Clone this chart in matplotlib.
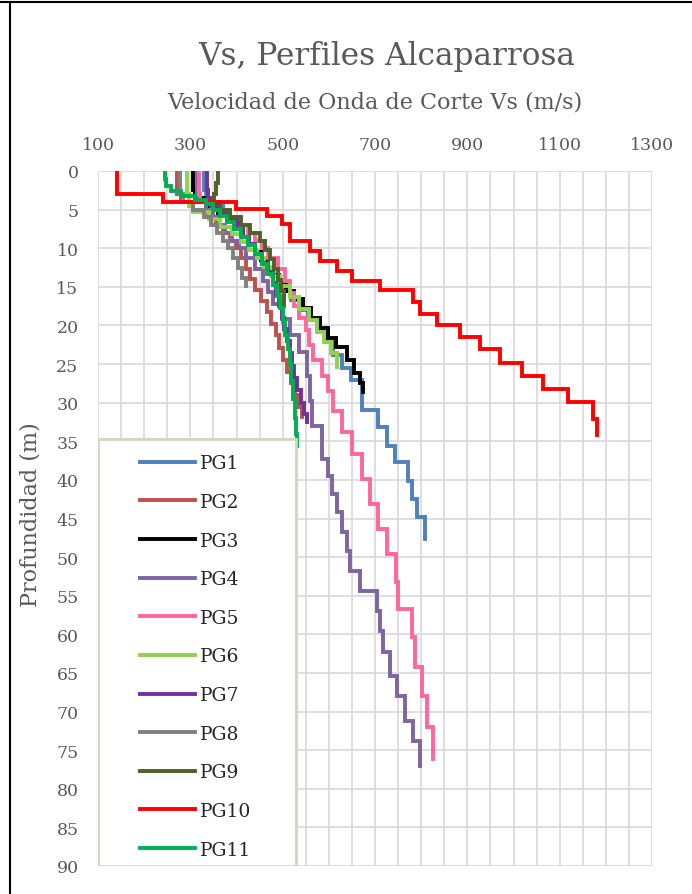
import matplotlib
matplotlib.use("Agg")
import matplotlib.pyplot as plt
from matplotlib.patches import Rectangle
from matplotlib.lines import Line2D
from matplotlib.ticker import MultipleLocator

# layer boundaries (m) and shear wave velocity of each layer (m/s)
pg1_depth = [0, 2.5, 3.5, 4.5, 5.5, 6.5, 7.5, 8.5, 9.5, 10.5, 11.5, 12.5, 13.5, 14.5, 15.5,
             16.7, 18, 19.3, 20.7, 22.2, 23.8, 25.5, 27, 31, 33.2, 35.6, 37.7, 40.2, 42.5,
             44.8, 47.7]
pg1_vs = [330, 335, 350, 370, 385, 400, 415, 428, 440, 452, 465, 478, 490, 503, 518,
          535, 555, 575, 593, 610, 628, 648, 672, 706, 726, 743, 771, 780, 791, 808]

pg2_depth = [0, 3, 4, 5, 6, 7, 8, 9, 10, 11.3, 12.7, 14, 15.4, 16.8, 18.3, 19.8, 21.3,
             22.9, 24.5, 26, 27.5, 29, 30.5, 31.9]
pg2_vs = [271, 280, 305, 335, 355, 370, 385, 398, 410, 420, 430, 440, 452, 465, 475,
          485, 493, 501, 510, 518, 526, 534, 541]

pg3_depth = [0, 2.5, 3.5, 4.5, 5.5, 6.5, 7.5, 8.5, 9.5, 10.5, 11.5, 12.5, 13.5, 14.5,
             15.5, 16.6, 17.8, 19, 20.3, 21.6, 22.8, 24.5, 26.2, 27.5, 28.6]
pg3_vs = [306, 310, 335, 360, 380, 398, 413, 426, 440, 453, 466, 480, 493, 508, 525,
          545, 562, 580, 598, 615, 640, 655, 668, 674]

pg4_depth = [0, 3, 4, 5, 6, 7, 8, 9, 10, 11.3, 12.7, 14.2, 15.7, 17.2, 19.2, 21.3, 23.4,
             26.6, 29.8, 33, 37.3, 39.5, 41.8, 44.2, 46.8, 49.2, 51.8, 54.4, 57, 59.6,
             62.3, 65.4, 68, 71.2, 73.8, 77.1]
pg4_vs = [315, 318, 335, 350, 362, 375, 390, 405, 420, 440, 457, 468, 479, 498, 516,
          535, 553, 559, 563, 585, 598, 607, 618, 628, 639, 646, 667, 704, 711, 717,
          732, 748, 765, 782, 797]

pg5_depth = [0, 3, 4, 5, 6, 7, 8, 9, 10, 11.3, 12.7, 14.2, 15.8, 17.5, 19, 20.6, 22.5,
             24.5, 26.5, 28.5, 31.1, 33.8, 36.7, 39.9, 43.1, 46.4, 49.6, 53.2, 56.7,
             60.4, 64.2, 68, 72, 76.2]
pg5_vs = [319, 322, 350, 380, 405, 425, 440, 455, 468, 490, 505, 515, 525, 535, 550,
          558, 566, 585, 598, 609, 628, 650, 672, 689, 706, 726, 745, 750, 780, 787,
          802, 813, 826]

pg6_depth = [0, 3, 4.5, 5.3, 6.2, 7.2, 8.2, 9.2, 10.2, 11.3, 12.4, 13.6, 14.9, 16.3,
             17.9, 19.3, 20.8, 22.2, 23.6, 25.4]
pg6_vs = [293, 297, 305, 340, 365, 390, 410, 428, 445, 460, 475, 495, 516, 535, 556,
          575, 590, 605, 618]

pg7_depth = [0, 2.5, 3.5, 4.5, 5.5, 6.5, 7.5, 8.5, 9.5, 10.7, 11.9, 13.1, 14.5, 16,
             17.5, 19, 20.5, 22, 23.6, 25.2, 26.8, 28.4, 30, 31.5, 32.5]
pg7_vs = [336, 338, 345, 365, 385, 400, 415, 428, 440, 455, 468, 478, 485, 492, 498,
          503, 509, 515, 520, 525, 532, 540, 547, 553]

pg8_depth = [0, 3, 4, 5, 6, 7, 8, 9, 10, 11.3, 12.6, 13.8, 14.9]
pg8_vs = [278, 285, 305, 330, 345, 358, 370, 382, 393, 403, 412, 420]

pg9_depth = [0, 1.5, 3, 4, 5, 6, 7, 8, 9, 10.2, 11.4, 12.7, 14.1, 15.6, 17.5]
pg9_vs = [360, 356, 352, 365, 385, 410, 430, 450, 462, 472, 482, 490, 497, 502]

pg10_depth = [0, 2.98, 4.02, 4.92, 5.83, 6.87, 9.07, 10.4, 11.7, 12.95, 14.25, 15.4,
              17.0, 18.5, 20.0, 21.5, 23.1, 24.8, 26.6, 28.2, 29.9, 32.1, 34.2]
pg10_vs = [141, 241, 399, 466, 499, 516, 559, 581, 618, 650, 711, 782, 797, 834, 884,
           927, 971, 1018, 1064, 1118, 1172, 1181]

pg11_depth = [0, 1, 2, 2.6, 3.2, 3.7, 4.3, 5, 5.8, 6.6, 7.5, 8.5, 9.6, 10.8, 12, 13.3,
              14.7, 16.2, 17.8, 19.5, 21.2, 23, 25, 27.2, 29.5, 32, 34, 35.6]
pg11_vs = [245, 248, 258, 280, 310, 335, 350, 365, 380, 395, 410, 425, 440, 455, 467,
           478, 487, 494, 500, 506, 511, 515, 519, 523, 526, 529, 531]

labels = ["PG1", "PG2", "PG3", "PG4", "PG5", "PG6", "PG7", "PG8", "PG9", "PG10", "PG11"]
colors = ["#4F81BD", "#C0504D", "#000000", "#8064A2", "#FF6699", "#92D050",
          "#7030A0", "#808080", "#4F6228", "#FF0000", "#00B050"]

x_ticks = [100, 300, 500, 700, 900, 1100, 1300]
y_ticks = list(range(0, 95, 5))


def step_profile(depth, vs):
    xs, ys = [], []
    for i, v in enumerate(vs):
        xs += [v, v]
        ys += [depth[i], depth[i + 1]]
    return xs, ys


def main():
    profiles = [(pg1_depth, pg1_vs), (pg2_depth, pg2_vs), (pg3_depth, pg3_vs),
                (pg4_depth, pg4_vs), (pg5_depth, pg5_vs), (pg6_depth, pg6_vs),
                (pg7_depth, pg7_vs), (pg8_depth, pg8_vs), (pg9_depth, pg9_vs),
                (pg10_depth, pg10_vs), (pg11_depth, pg11_vs)]

    plt.rcParams['font.family'] = 'DejaVu Serif'
    gray = '#595959'

    fig = plt.figure(figsize=(6.92, 8.95), dpi=100)
    ax = fig.add_axes([98 / 692, 1 - 867 / 895, 554 / 692, 695 / 895])

    for (depth, vs), lab, col in zip(profiles, labels, colors):
        xs, ys = step_profile(depth, vs)
        ax.plot(xs, ys, color=col, lw=2.8, label=lab, solid_joinstyle='miter', zorder=2)

    ax.set_xlim(100, 1300)
    ax.set_ylim(90, 0)
    ax.set_xticks(x_ticks)
    ax.set_yticks(y_ticks)
    ax.xaxis.set_minor_locator(MultipleLocator(50))
    ax.xaxis.tick_top()
    ax.grid(True, which='both', color='#D9D9D9', lw=1.2)
    ax.set_axisbelow(True)
    for s in ax.spines.values():
        s.set_visible(False)
    ax.tick_params(axis='both', which='both', length=0, labelsize=12.5, labelcolor=gray)
    ax.tick_params(axis='x', pad=13)
    ax.tick_params(axis='y', pad=14)

    # legend box over the lower left part of the plot
    ax.add_patch(Rectangle((0, 0), 198 / 554, (867 - 440) / 695, transform=ax.transAxes,
                           facecolor='white', edgecolor='#D8D3BD', lw=2, zorder=3))
    ax.legend(loc='upper left', bbox_to_anchor=(33 / 554, (867 - 446) / 695),
              frameon=False, borderpad=0, fontsize=13.5, labelspacing=1.1,
              handlelength=2.93, handletextpad=0.25, labelcolor='#262626')

    fig.text(387 / 692, 1 - 57 / 895, 'Vs, Perfiles Alcaparrosa', ha='center', va='center',
             fontsize=22.5, color=gray)
    fig.text(375 / 692, 1 - 103 / 895, 'Velocidad de Onda de Corte Vs (m/s)', ha='center',
             va='center', fontsize=16, color=gray)
    fig.text(31 / 692, 1 - 515 / 895, 'Profundidad (m)', ha='center', va='center',
             rotation=90, fontsize=16, color=gray)

    # border of the screenshot
    fig.add_artist(Line2D([0, 1], [1 - 3 / 895, 1 - 3 / 895], color='black', lw=1.5))
    fig.add_artist(Line2D([10 / 692, 10 / 692], [0, 1 - 3 / 895], color='black', lw=1.5))

    plt.savefig('out.png', dpi=100)


if __name__ == '__main__':
    main()
